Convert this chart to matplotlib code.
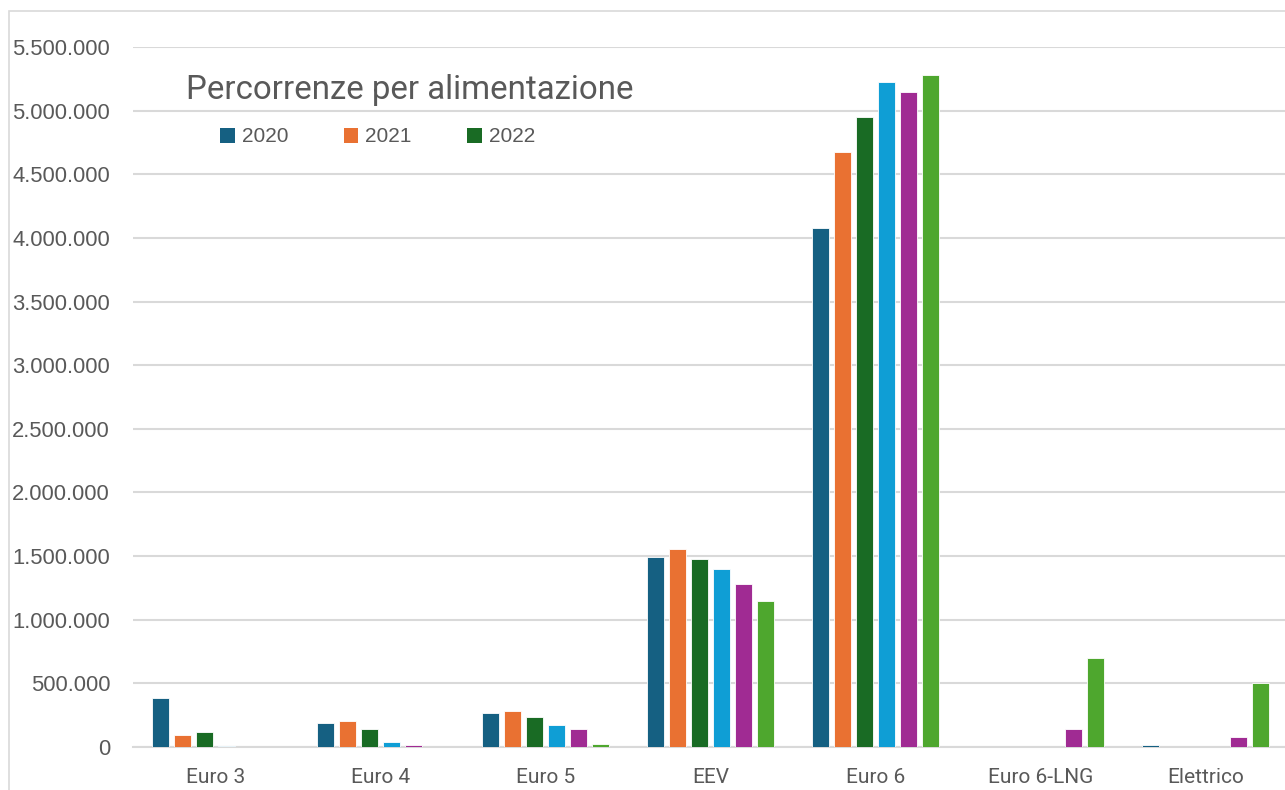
#!/usr/bin/env python3

import numpy as np
import matplotlib
matplotlib.use('Agg')
import matplotlib.pyplot as plt
from matplotlib.patches import Rectangle, Patch
from matplotlib.ticker import FuncFormatter, MultipleLocator


categories = ['Euro 3', 'Euro 4', 'Euro 5', 'EEV', 'Euro 6', 'Euro 6-LNG', 'Elettrico']
years = ['2020', '2021', '2022', '2023', '2024', '2025']

# one list per series, values per category
s2020 = [385000, 191000, 267000, 1493000, 4076000, 0, 12000]
s2021 = [97000, 201000, 280000, 1556000, 4678000, 0, 0]
s2022 = [118000, 144000, 238000, 1477000, 4948000, 0, 0]
s2023 = [10000, 36000, 175000, 1399000, 5225000, 0, 0]
s2024 = [0, 13000, 141000, 1281000, 5144000, 139000, 76000]
s2025 = [0, 0, 26000, 1147000, 5278000, 699000, 503000]
series = [s2020, s2021, s2022, s2023, s2024, s2025]

legend_years = ['2020', '2021', '2022']  # the legend only shows these

COLORS = ['#156082', '#E97132', '#196B24', '#0F9ED5', '#A02B93', '#4EA72E']
GRID = '#d9d9d9'
TEXT = '#595959'

W, H = 1285, 790


def thousands(x, pos):
    return '{:,.0f}'.format(x).replace(',', '.')


def main():
    fig = plt.figure(figsize=(W / 100, H / 100), dpi=100)

    # chart area border (only top and left are visible in the crop)
    fig.patches.append(Rectangle((9 / W, -0.1), 1.2, (H - 11) / H + 0.1,
                                 transform=fig.transFigure, fill=False,
                                 edgecolor=GRID, linewidth=1.2))

    ax = fig.add_axes([133 / W, (H - 747) / H, 1155 / W, 700 / H])

    n = len(series)
    step = 0.133
    width = 0.103
    x = np.arange(len(categories))
    for i, vals in enumerate(series):
        offs = (i - (n - 1) / 2) * step
        ax.bar(x + offs, vals, width, color=COLORS[i], edgecolor='white',
               linewidth=0.6, zorder=3)

    ax.set_xlim(-0.5, len(categories) - 0.5)
    ax.set_ylim(0, 5500000)
    ax.yaxis.set_major_locator(MultipleLocator(500000))
    ax.yaxis.set_major_formatter(FuncFormatter(thousands))
    ax.yaxis.grid(True, color=GRID, linewidth=1.5, zorder=0)
    ax.set_xticks(x)
    ax.set_xticklabels(categories, fontfamily='Roboto', fontsize=15, color=TEXT)
    for lbl in ax.get_yticklabels():
        lbl.set_fontfamily('Liberation Sans')
        lbl.set_fontsize(15.8)
        lbl.set_color(TEXT)
    ax.tick_params(axis='both', length=0)
    ax.tick_params(axis='y', pad=16.5)
    ax.tick_params(axis='x', pad=15)
    for side in ['top', 'right', 'left']:
        ax.spines[side].set_visible(False)
    ax.spines['bottom'].set_color(GRID)
    ax.spines['bottom'].set_linewidth(1.5)

    fig.text(186 / W, 1 - 90 / H, 'Percorrenze per alimentazione', fontfamily='Roboto',
             fontsize=23.8, color=TEXT, va='center', ha='left')

    handles = [Patch(facecolor=COLORS[i]) for i in range(len(legend_years))]
    leg = fig.legend(handles, legend_years, loc='center left',
                     bbox_to_anchor=(220 / W, 1 - 137 / H), ncol=3, frameon=False,
                     prop={'family': 'Liberation Sans', 'size': 15},
                     borderpad=0, borderaxespad=0,
                     handlelength=0.7, handleheight=0.7, handletextpad=0.35,
                     columnspacing=2.65)
    for t in leg.get_texts():
        t.set_color(TEXT)

    fig.savefig('out.png', dpi=100)


if __name__ == '__main__':
    main()
